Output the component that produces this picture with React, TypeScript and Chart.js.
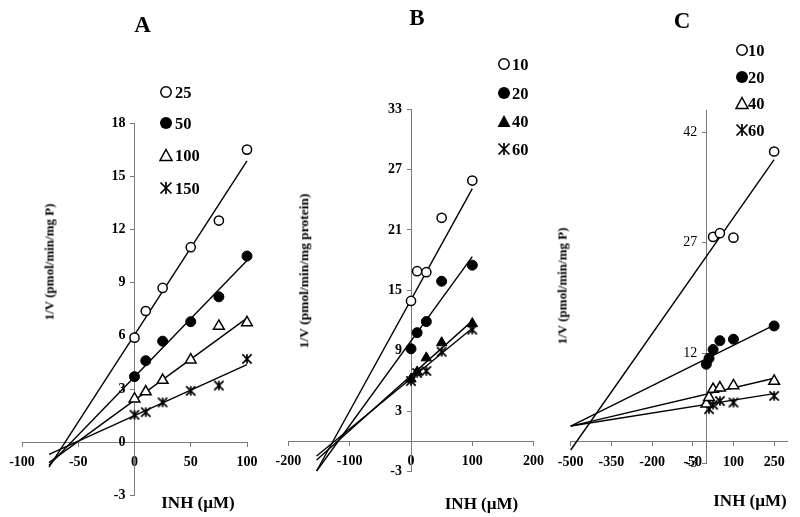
import React, { useEffect, useRef } from "react";
import { Chart, registerables } from "chart.js";
Chart.register(...registerables);

// ---------- Panel A ----------
const xA = [0, 10, 25, 50, 75, 100];
const a25 = [5.9, 7.4, 8.7, 11.0, 12.5, 16.5];
const a50 = [3.7, 4.6, 5.7, 6.8, 8.2, 10.5];
const a100 = [2.45, 2.85, 3.5, 4.65, 6.55, 6.75];
const a150 = [1.55, 1.7, 2.25, 2.9, 3.2, 4.7];
const lineAx = [-76, 100];
const lineA25 = [-1.4, 15.86];
const lineA50 = [-1.3, 10.25];
const lineA100 = [-1.15, 7.0];
const lineA150 = [-0.68, 4.38];
const ticksAx = [-100, -50, 0, 50, 100];
const ticksAy = [-3, 0, 3, 6, 9, 12, 15, 18];
const legendA = ["25", "50", "100", "150"];

// ---------- Panel B ----------
const xB = [0, 10, 25, 50, 100];
const b10 = [13.95, 16.9, 16.8, 22.2, 25.9];
const b20 = [9.2, 10.8, 11.9, 15.9, 17.5];
const b40 = [6.2, 6.9, 8.3, 9.8, 11.7];
const b60 = [6.0, 6.8, 7.0, 8.9, 11.1];
const lineBx = [-154, 100];
const lineB10 = [-2.93, 25.1];
const lineB20 = [-2.93, 18.35];
const lineB40 = [-1.84, 11.97];
const lineB60 = [-1.44, 11.24];
const ticksBx = [-200, -100, 0, 100, 200];
const ticksBy = [-3, 3, 9, 15, 21, 27, 33];
const legendB = ["10", "20", "40", "60"];

// ---------- Panel C ----------
const xC10 = [25, 50, 100, 250];
const c10 = [27.8, 28.3, 27.7, 39.4];
const xC20 = [0, 10, 25, 50, 100, 250];
const c20 = [10.5, 11.3, 12.5, 13.7, 13.9, 15.7];
const xC40 = [0, 10, 25, 50, 100, 250];
const c40 = [5.1, 6.0, 7.1, 7.3, 7.6, 8.2];
const xC60 = [10, 25, 50, 100, 250];
const c60 = [4.4, 5.0, 5.5, 5.3, 6.2];
const lineCx = [-500, 250];
const lineC10 = [-1.15, 38.3];
const lineC20 = [2.1, 15.8];
const lineC40 = [2.1, 8.6];
const lineC60 = [2.1, 6.5];
const ticksCx = [-500, -350, -200, -50, 100, 250];
const ticksCy = [-3, 12, 27, 42];
const legendC = ["10", "20", "40", "60"];

const FONT = '"Liberation Serif", "Times New Roman", serif';
const Y_LABEL_GAP = 9;

function makeAsterisk(size: number, lw: number) {
  const c = document.createElement("canvas");
  c.width = size;
  c.height = size;
  const ctx = c.getContext("2d")!;
  ctx.strokeStyle = "#000";
  ctx.lineWidth = lw;
  const p = lw / 2 + 0.5;
  ctx.beginPath();
  ctx.moveTo(size / 2, p);
  ctx.lineTo(size / 2, size - p);
  ctx.moveTo(p, p);
  ctx.lineTo(size - p, size - p);
  ctx.moveTo(size - p, p);
  ctx.lineTo(p, size - p);
  ctx.stroke();
  return c;
}

// Shift the y tick labels off the crossing axis line (object-positioned axes draw them flush).
const shiftYLabels = {
  id: "shiftYLabels",
  beforeDraw(chart: any) {
    const s = chart.scales.y;
    if (!s || s._shifted) return;
    const items = s.getLabelItems(chart.chartArea);
    items.forEach((it: any) => {
      it.options.translation[0] -= Y_LABEL_GAP;
    });
    s._shifted = true;
  },
};

type Kind = "openCircle" | "filledCircle" | "openTri" | "filledTri" | "star";

function pts(xs: number[], ys: number[]) {
  return xs.map((x, i) => ({ x, y: ys[i] }));
}

function scatterDs(xs: number[], ys: number[], kind: Kind, star: HTMLCanvasElement) {
  const base: any = {
    type: "scatter",
    data: pts(xs, ys),
    showLine: false,
    borderColor: "#000",
    order: 0,
    clip: false,
  };
  if (kind === "openCircle") return { ...base, pointStyle: "circle", pointRadius: 4.6, backgroundColor: "#fff", borderWidth: 1.5 };
  if (kind === "filledCircle") return { ...base, pointStyle: "circle", pointRadius: 5, backgroundColor: "#000", borderWidth: 1 };
  if (kind === "openTri") return { ...base, pointStyle: "triangle", pointRadius: 6.2, backgroundColor: "#fff", borderWidth: 1.5 };
  if (kind === "filledTri") return { ...base, pointStyle: "triangle", pointRadius: 6, backgroundColor: "#000", borderWidth: 1 };
  return { ...base, pointStyle: star, pointRadius: 6, backgroundColor: "#000", borderWidth: 1 };
}

function lineDs(xs: number[], ys: number[]) {
  return {
    type: "scatter",
    data: pts(xs, ys),
    showLine: true,
    pointRadius: 0,
    borderColor: "#000",
    borderWidth: 1.4,
    order: 1,
    clip: false,
  };
}

function axes(
  xMin: number, xMax: number, xTicks: number[],
  yMin: number, yMax: number, yTicks: number[], yWeight: string
) {
  const axisColor = "#7a7a7a";
  return {
    x: {
      type: "linear",
      axis: "x",
      min: xMin,
      max: xMax,
      position: { y: 0 },
      afterBuildTicks: (s: any) => {
        s.ticks = xTicks.map((v) => ({ value: v }));
      },
      grid: { drawOnChartArea: false, drawTicks: true, tickLength: 4, color: axisColor, lineWidth: 1 },
      border: { display: true, color: axisColor, width: 1 },
      ticks: {
        font: { family: FONT, size: 14, weight: "bold" },
        color: "#000",
        padding: 8,
        maxRotation: 0,
        autoSkip: false,
        callback: (v: any) => String(v),
      },
    },
    y: {
      type: "linear",
      axis: "y",
      min: yMin,
      max: yMax,
      position: { x: 0 },
      afterBuildTicks: (s: any) => {
        s.ticks = yTicks.map((v) => ({ value: v }));
      },
      grid: { drawOnChartArea: false, drawTicks: true, tickLength: 4, color: axisColor, lineWidth: 1 },
      border: { display: true, color: axisColor, width: 1 },
      ticks: {
        font: { family: FONT, size: 14, weight: yWeight },
        color: "#000",
        padding: 5,
        autoSkip: false,
        callback: (v: any) => String(v),
      },
    },
  };
}

function baseOptions(padding: any, scales: any) {
  return {
    responsive: false,
    animation: false,
    events: [],
    layout: { padding },
    plugins: { legend: { display: false }, tooltip: { enabled: false }, title: { display: false } },
    scales,
  };
}

function configA() {
  const star = makeAsterisk(12, 1.7);
  return {
    type: "scatter",
    data: {
      datasets: [
        scatterDs(xA, a25, "openCircle", star),
        scatterDs(xA, a50, "filledCircle", star),
        scatterDs(xA, a100, "openTri", star),
        scatterDs(xA, a150, "star", star),
        lineDs(lineAx, lineA25),
        lineDs(lineAx, lineA50),
        lineDs(lineAx, lineA100),
        lineDs(lineAx, lineA150),
      ],
    },
    options: baseOptions(
      { left: 22, right: 553, top: 123, bottom: 21.5 },
      axes(-100, 100, ticksAx, -3, 18, ticksAy, "bold")
    ),
    plugins: [shiftYLabels],
  };
}

function configB() {
  const star = makeAsterisk(12, 1.7);
  return {
    type: "scatter",
    data: {
      datasets: [
        scatterDs(xB, b10, "openCircle", star),
        scatterDs(xB, b20, "filledCircle", star),
        scatterDs(xB, b40, "filledTri", star),
        scatterDs(xB, b60, "star", star),
        lineDs(lineBx, lineB10),
        lineDs(lineBx, lineB20),
        lineDs(lineBx, lineB40),
        lineDs(lineBx, lineB60),
      ],
    },
    options: baseOptions(
      { left: 288.4, right: 266.4, top: 109, bottom: 45.3 },
      axes(-200, 200, ticksBx, -3, 33, ticksBy, "bold")
    ),
    plugins: [shiftYLabels],
  };
}

function configC() {
  const star = makeAsterisk(12, 1.7);
  return {
    type: "scatter",
    data: {
      datasets: [
        scatterDs(xC10, c10, "openCircle", star),
        scatterDs(xC20, c20, "filledCircle", star),
        scatterDs(xC40, c40, "openTri", star),
        scatterDs(xC60, c60, "star", star),
        lineDs(lineCx, lineC10),
        lineDs(lineCx, lineC20),
        lineDs(lineCx, lineC40),
        lineDs(lineCx, lineC60),
      ],
    },
    options: baseOptions(
      { left: 570.7, right: 12.3, top: 110.3, bottom: 53.4 },
      axes(-500, 300, ticksCx, -3, 45, ticksCy, "normal")
    ),
    plugins: [shiftYLabels],
  };
}

function ChartCanvas({ make }: { make: () => any }) {
  const ref = useRef<HTMLCanvasElement | null>(null);
  useEffect(() => {
    const chart = new Chart(ref.current as HTMLCanvasElement, make() as any);
    return () => chart.destroy();
  }, []);
  return (
    <canvas
      ref={ref}
      width={800}
      height={517}
      style={{ position: "absolute", left: 0, top: 0, width: 800, height: 517 }}
    />
  );
}

function Marker({ kind }: { kind: Kind }) {
  const s = 14;
  let el: any = null;
  if (kind === "openCircle") el = <circle cx={7} cy={7} r={5.2} fill="#fff" stroke="#000" strokeWidth={1.5} />;
  else if (kind === "filledCircle") el = <circle cx={7} cy={7} r={6} fill="#000" />;
  else if (kind === "openTri") el = <polygon points="7,1.5 13,12.5 1,12.5" fill="#fff" stroke="#000" strokeWidth={1.5} />;
  else if (kind === "filledTri") el = <polygon points="7,1 13.5,13 0.5,13" fill="#000" />;
  else
    el = (
      <g stroke="#000" strokeWidth={1.7}>
        <line x1={7} y1={1} x2={7} y2={13} />
        <line x1={1.5} y1={1.5} x2={12.5} y2={12.5} />
        <line x1={12.5} y1={1.5} x2={1.5} y2={12.5} />
      </g>
    );
  return (
    <svg width={s} height={s} style={{ position: "absolute", left: -7, top: -7 }}>
      {el}
    </svg>
  );
}

function Legend({ items, kinds, x, ys, textX }: { items: string[]; kinds: Kind[]; x: number; ys: number[]; textX: number }) {
  return (
    <>
      {items.map((t, i) => (
        <React.Fragment key={i}>
          <div style={{ position: "absolute", left: x, top: ys[i] }}>
            <Marker kind={kinds[i]} />
          </div>
          <div
            style={{
              position: "absolute",
              left: textX,
              top: ys[i],
              transform: "translateY(-50%)",
              fontFamily: FONT,
              fontWeight: "bold",
              fontSize: 16.5,
              lineHeight: "17px",
              whiteSpace: "nowrap",
            }}
          >
            {t}
          </div>
        </React.Fragment>
      ))}
    </>
  );
}

function Text({ x, y, size, rotate, children, weight = "bold" }: any) {
  return (
    <div
      style={{
        position: "absolute",
        left: x,
        top: y,
        transform: `translate(-50%, -50%)${rotate ? " rotate(-90deg)" : ""}`,
        fontFamily: FONT,
        fontWeight: weight,
        fontSize: size,
        lineHeight: `${size}px`,
        whiteSpace: "nowrap",
        color: "#000",
      }}
    >
      {children}
    </div>
  );
}

export default function App() {
  return (
    <div style={{ position: "absolute", left: 0, top: 0, width: 800, height: 517, background: "#fff", overflow: "hidden" }}>
      <ChartCanvas make={configA} />
      <ChartCanvas make={configB} />
      <ChartCanvas make={configC} />

      <Text x={142.5} y={24} size={23}>A</Text>
      <Text x={417} y={17} size={23}>B</Text>
      <Text x={682} y={20} size={23}>C</Text>

      <Text x={48.5} y={262} size={13} rotate>1/V (pmol/min/mg P)</Text>
      <Text x={303.5} y={270.5} size={13.5} rotate>1/V (pmol/min/mg protein)</Text>
      <Text x={561.5} y={286} size={13} rotate>1/V (pmol/min/mg P)</Text>

      <Text x={198} y={502} size={17}>INH (µM)</Text>
      <Text x={481.5} y={503} size={17}>INH (µM)</Text>
      <Text x={750} y={500} size={17}>INH (µM)</Text>

      <Legend
        items={legendA}
        kinds={["openCircle", "filledCircle", "openTri", "star"]}
        x={165.7}
        ys={[91.7, 123.3, 155.3, 188.3]}
        textX={175}
      />
      <Legend
        items={legendB}
        kinds={["openCircle", "filledCircle", "filledTri", "star"]}
        x={503.5}
        ys={[64.3, 92.7, 120.7, 149]}
        textX={512}
      />
      <Legend
        items={legendC}
        kinds={["openCircle", "filledCircle", "openTri", "star"]}
        x={741.7}
        ys={[50, 76.7, 103.3, 130]}
        textX={748}
      />
    </div>
  );
}
